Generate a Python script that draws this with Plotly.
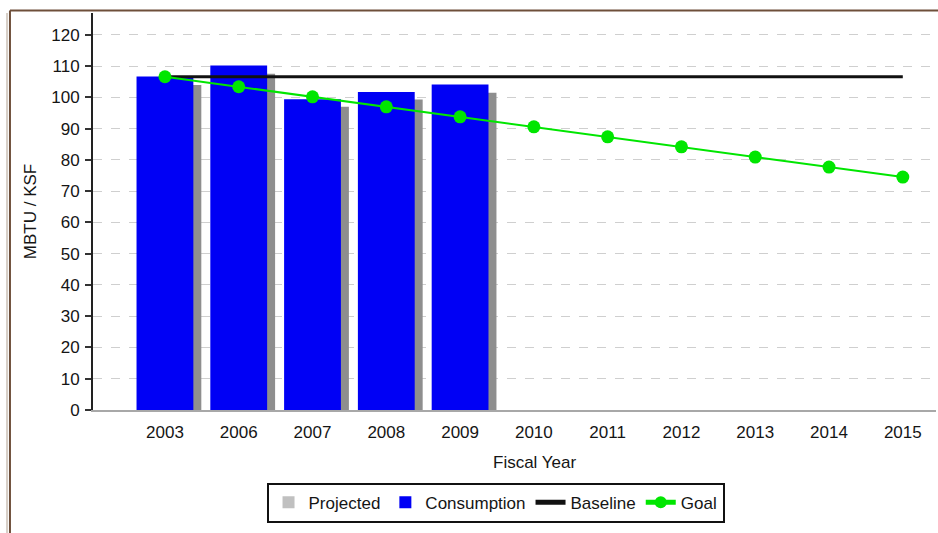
import plotly.graph_objects as go

years = ["2003", "2006", "2007", "2008", "2009", "2010", "2011", "2012", "2013", "2014", "2015"]
bar_years = ["2003", "2006", "2007", "2008", "2009"]
projected = [104.0, 107.6, 97.0, 99.3, 101.5]
consumption = [106.7, 110.2, 99.4, 101.7, 104.1]
baseline = [106.6] * len(years)
goal = [106.6, 103.4, 100.2, 97.0, 93.8, 90.6, 87.4, 84.2, 80.9, 77.7, 74.5]
y_ticks = list(range(0, 121, 10))

FONT = "Liberation Sans, Arial, Helvetica, sans-serif"
BAR_W = 0.77
SHIFT = 0.108
FS = 17

fig = go.Figure()
# real projected bars (darker shadow look), hidden from legend
fig.add_trace(go.Bar(x=bar_years, y=projected, name="Projected", width=BAR_W,
                     offset=-BAR_W / 2 + SHIFT, marker=dict(color="#8e8e8e", line=dict(width=0)),
                     showlegend=False, legendgroup="proj"))
# legend entry for projected (light grey swatch, zero height so nothing is drawn)
fig.add_trace(go.Bar(x=bar_years[:1], y=[0], name="Projected", width=0.01,
                     marker=dict(color="#c0c0c0", line=dict(width=0)),
                     showlegend=True, legendgroup="proj", hoverinfo="skip"))
fig.add_trace(go.Bar(x=bar_years, y=consumption, name="Consumption", width=BAR_W,
                     offset=-BAR_W / 2, marker=dict(color="#0000f5", line=dict(width=0))))
fig.add_trace(go.Scatter(x=years, y=baseline, name="Baseline", mode="lines",
                         line=dict(color="#111111", width=3)))
fig.add_trace(go.Scatter(x=years, y=goal, name="Goal", mode="lines+markers",
                         line=dict(color="#00e600", width=2),
                         marker=dict(color="#00e600", size=13)))

fig.update_layout(
    width=938, height=533,
    margin=dict(l=93, r=2, t=13, b=123),
    paper_bgcolor="white", plot_bgcolor="white",
    barmode="overlay",
    font=dict(family=FONT, size=FS, color="#151515"),
    showlegend=True,
    legend=dict(orientation="h", x=0.4775, xanchor="center", y=-0.183, yanchor="top",
                bordercolor="#111111", borderwidth=2, font=dict(size=FS, color="#151515"),
                itemsizing="constant", traceorder="normal", itemwidth=30,
                tracegroupgap=0),
    xaxis=dict(type="category", categoryorder="array", categoryarray=years,
               range=[-0.975, 10.45], showgrid=False, showline=True, linecolor="#a8a8a8",
               linewidth=2, ticks="", tickfont=dict(size=FS), ticklabelstandoff=6),
    yaxis=dict(range=[0, 127], tickvals=y_ticks, showgrid=True, gridcolor="#cfcfcf",
               griddash="dash", gridwidth=1, showline=True, linecolor="#222222", linewidth=2,
               ticks="outside", ticklen=6, tickcolor="#333333", tickwidth=2,
               tickfont=dict(size=FS), zeroline=False, ticklabelstandoff=2,
               title=dict(text="MBTU / KSF", font=dict(size=FS), standoff=10)),
    annotations=[dict(text="Fiscal Year", xref="paper", yref="paper", x=0.524, y=-0.131,
                      xanchor="center", yanchor="middle", showarrow=False, font=dict(size=FS))],
    shapes=[
        dict(type="line", xref="paper", yref="paper", x0=-0.0985, x1=1.01, y0=1.006, y1=1.006,
             line=dict(color="#6e4f3a", width=2)),
        dict(type="line", xref="paper", yref="paper", x0=-0.0985, x1=-0.0985, y0=1.006, y1=-0.31,
             line=dict(color="#6e4f3a", width=2)),
        dict(type="line", xref="paper", yref="paper", x0=-0.102, x1=-0.102, y0=1.0, y1=-0.31,
             line=dict(color="#b0a090", width=1)),
    ],
)

fig.write_html("out.html")
